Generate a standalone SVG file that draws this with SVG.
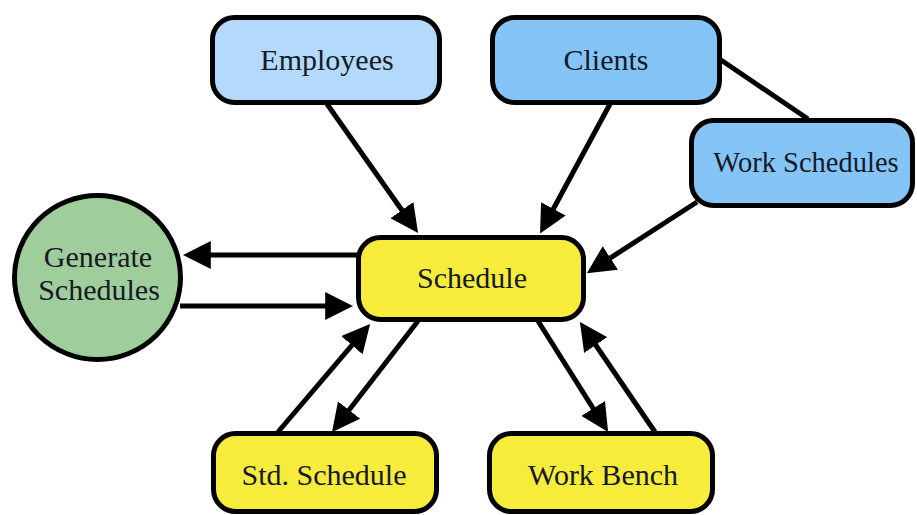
<svg xmlns="http://www.w3.org/2000/svg" width="917" height="515" viewBox="0 0 917 515">
<defs>
<style>
.box{stroke:#000;stroke-width:5}
.blue1{fill:#b3dafc}
.blue2{fill:#84c4f7}
.yellow{fill:#f7ec3c}
.green{fill:#a0cd9c}
.lbl{font-family:"Liberation Serif","Times New Roman",serif;font-size:30px;fill:#161a26;text-anchor:middle}
.edge{stroke:#000;stroke-width:5;fill:none}
</style>
<marker id="ah" viewBox="0 0 10 10" refX="7.8" refY="5" markerWidth="28" markerHeight="28" markerUnits="userSpaceOnUse" orient="auto">
<path d="M0,0 L10,5 L0,10 z" fill="#000"/>
</marker>
</defs>
<rect width="917" height="515" fill="#fff"/>
<g id="connectors">
<line class="edge" x1="721" y1="60" x2="808" y2="119"/>
<line class="edge" x1="327" y1="104" x2="414.5" y2="228" marker-end="url(#ah)"/>
<line class="edge" x1="610" y1="104" x2="543" y2="228" marker-end="url(#ah)"/>
<line class="edge" x1="697" y1="202" x2="592" y2="269.8" marker-end="url(#ah)"/>
<line class="edge" x1="358" y1="255" x2="189" y2="255" marker-end="url(#ah)"/>
<line class="edge" x1="180" y1="306" x2="347" y2="306" marker-end="url(#ah)"/>
<line class="edge" x1="278" y1="432" x2="366.1" y2="328.6" marker-end="url(#ah)"/>
<line class="edge" x1="418" y1="321" x2="335.7" y2="427.3" marker-end="url(#ah)"/>
<line class="edge" x1="538" y1="321" x2="604.8" y2="426.9" marker-end="url(#ah)"/>
<line class="edge" x1="655" y1="432" x2="583.4" y2="327" marker-end="url(#ah)"/>
</g>
<g id="employees">
<rect class="box blue1" x="212.5" y="17.5" width="227" height="85" rx="22"/>
<text class="lbl" x="327" y="70">Employees</text>
</g>
<g id="clients">
<rect class="box blue2" x="492.5" y="17.5" width="227" height="85" rx="22"/>
<text class="lbl" x="606" y="70">Clients</text>
</g>
<g id="work-schedules">
<rect class="box blue2" x="691.5" y="120.5" width="221" height="85" rx="22"/>
<text class="lbl" x="806" y="172" style="font-size:28.5px">Work Schedules</text>
</g>
<g id="generate-schedules">
<ellipse class="box green" cx="97.5" cy="277.5" rx="83" ry="82"/>
<text class="lbl" x="98" y="267">Generate</text>
<text class="lbl" x="99" y="300">Schedules</text>
</g>
<g id="schedule">
<rect class="box yellow" x="358.5" y="237.5" width="225" height="82" rx="22"/>
<text class="lbl" x="472" y="288">Schedule</text>
</g>
<g id="std-schedule">
<rect class="box yellow" x="213.5" y="433.5" width="223" height="78" rx="22"/>
<text class="lbl" x="324" y="485">Std. Schedule</text>
</g>
<g id="work-bench">
<rect class="box yellow" x="489.5" y="433.5" width="223" height="78" rx="22"/>
<text class="lbl" x="603" y="485">Work Bench</text>
</g>
</svg>
